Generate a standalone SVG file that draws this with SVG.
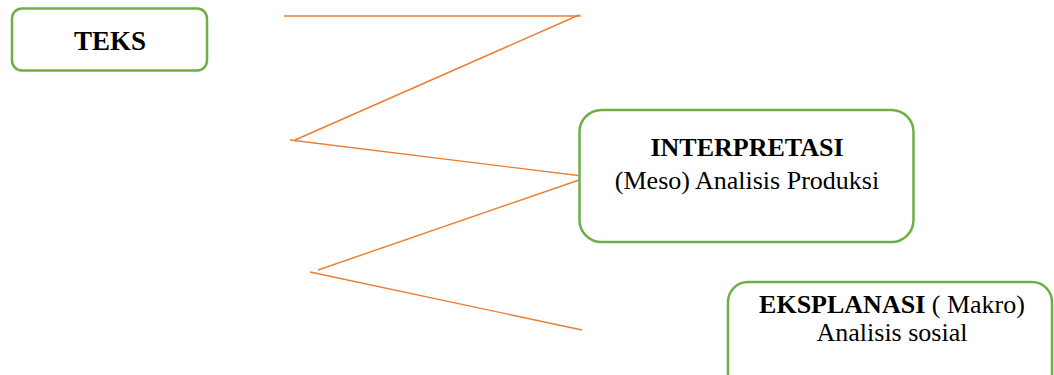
<svg xmlns="http://www.w3.org/2000/svg" width="1054" height="375" viewBox="0 0 1054 375">
  <style>
    .box { fill: #ffffff; stroke: #70AD47; stroke-width: 2.5; }
    .link { stroke: #ED7D31; stroke-width: 1.4; fill: none; }
    .t { font-family: "Liberation Serif", "Times New Roman", serif; font-size: 26px; fill: #000000; text-anchor: middle; }
    .b { font-weight: bold; }
  </style>
  <rect width="1054" height="375" fill="#ffffff"/>

  <!-- connectors -->
  <g id="connectors">
    <line class="link" x1="284" y1="16" x2="581" y2="16"/>
    <line class="link" x1="579" y1="15" x2="295" y2="140"/>
    <line class="link" x1="290" y1="140" x2="582" y2="176"/>
    <line class="link" x1="582" y1="179" x2="318" y2="270"/>
    <line class="link" x1="310" y1="272" x2="582" y2="330"/>
  </g>

  <g id="node-teks">
    <rect class="box" x="12" y="8.5" width="195" height="62" rx="10"/>
    <text class="t b" x="110" y="50" style="font-size:27px">TEKS</text>
  </g>

  <g id="node-interpretasi">
    <rect class="box" x="579.5" y="110" width="334" height="132" rx="22"/>
    <text class="t b" x="747" y="156">INTERPRETASI</text>
    <text class="t" x="747" y="189">(Meso) Analisis Produksi</text>
  </g>

  <g id="node-eksplanasi">
    <rect class="box" x="728" y="282" width="324" height="120" rx="20"/>
    <text class="t" x="892" y="313"><tspan class="b">EKSPLANASI</tspan> ( Makro)</text>
    <text class="t" x="892" y="341">Analisis sosial</text>
  </g>
</svg>
